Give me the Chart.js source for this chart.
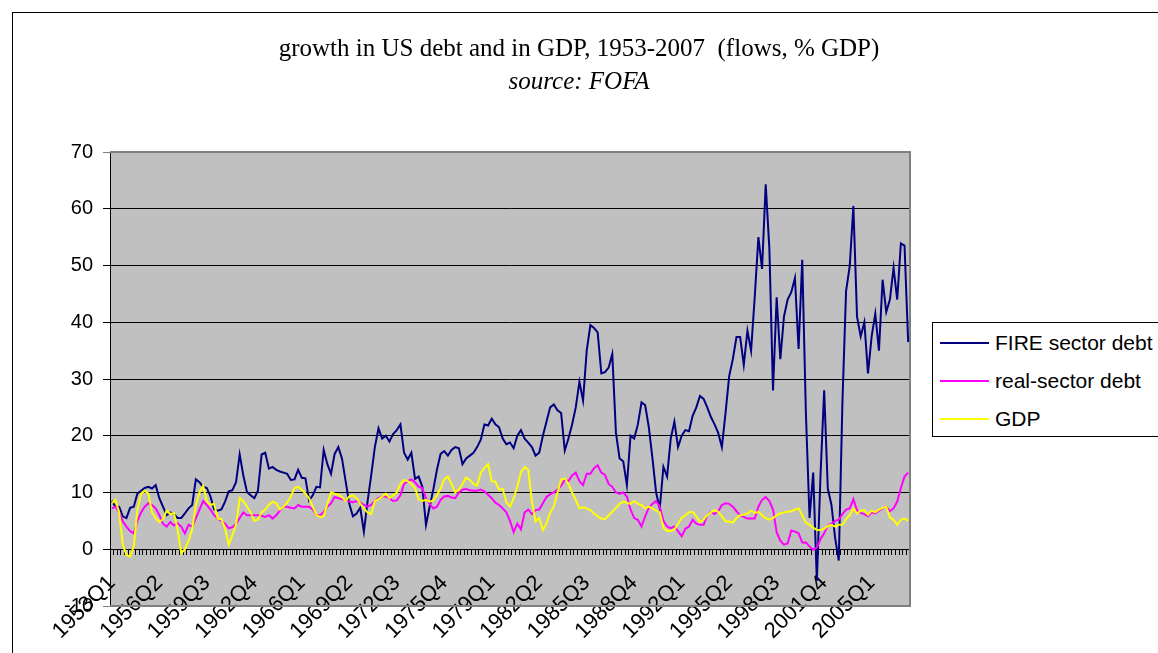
<!DOCTYPE html>
<html>
<head>
<meta charset="utf-8">
<script src="https://cdn.jsdelivr.net/npm/chart.js@4.4.1/dist/chart.umd.min.js"></script>
<style>
html, body { margin: 0; padding: 0; background: #fff; }
#wrap { position: relative; width: 1158px; height: 653px; overflow: hidden; }
#frame { position: absolute; left: 12px; top: 12px; width: 1200px; height: 700px; border: 1px solid #000; }
#chart { position: absolute; left: 0; top: 0; }
#title { position: absolute; left: 0; top: 31px; width: 1158px; text-align: center;
  font-family: "Liberation Serif", "Times New Roman", serif; font-size: 25px; line-height: 33px; color: #000; }
#title i { font-style: italic; }
#legend { position: absolute; left: 932px; top: 322px; width: 225px; height: 113px;
  border: 1px solid #000; background: #fff; font-family: "Liberation Sans", Arial, sans-serif; font-size: 21px; }
.item { position: absolute; left: 0; height: 30px; line-height: 30px; white-space: nowrap; }
.item span.swatch { position: absolute; left: 7px; top: 14px; width: 49px; height: 2px; }
.item span.txt { position: absolute; left: 62px; top: 0; }
</style>
</head>
<body>
<div id="wrap">
  <div id="frame"></div>
  <canvas id="chart" width="1158" height="653"></canvas>
  <div id="title">growth in US debt and in GDP, 1953-2007&nbsp; (flows, % GDP)<br><i>source: FOFA</i></div>
  <div id="legend"></div>
</div>
<script>
// quarterly categories 1953Q1 .. 2007Q3
const quarters = [];
for (let y = 1953; y <= 2007; y++) {
    for (let q = 1; q <= 4; q++) quarters.push(y + 'Q' + q);
}
quarters.length = 219;

const fireDebt = [
    8.5, 7.5, 7.5, 5.8, 5.5, 7.3, 7.5, 9.8, 10.3, 10.8, 11.0, 10.7, 11.3, 9.0, 7.5, 6.0, 6.5, 6.2, 5.5, 5.5,
    6.3, 7.2, 7.8, 12.3, 11.8, 11.0, 10.8, 9.3, 7.0, 6.8, 7.0, 8.4, 10.2, 10.4, 11.8, 16.7, 13.0, 10.1, 9.5, 9.0,
    10.3, 16.7, 17.0, 14.2, 14.5, 14.0, 13.7, 13.5, 13.3, 12.2, 12.3, 14.0, 12.6, 12.5, 8.6, 9.5, 11.0, 10.9, 17.5, 15.0,
    13.3, 16.8, 18.0, 16.0, 12.0, 8.0, 5.8, 6.3, 7.3, 3.1, 8.4, 13.0, 18.0, 21.3, 19.5, 20.0, 19.0, 20.3, 21.0, 22.0,
    17.0, 15.8, 17.0, 12.4, 12.8, 11.0, 4.3, 7.5, 10.5, 14.0, 16.8, 17.3, 16.5, 17.5, 18.0, 17.8, 15.0, 16.0, 16.5, 17.0,
    18.0, 19.3, 22.0, 21.8, 23.0, 22.0, 21.5, 19.5, 18.5, 18.8, 17.8, 20.0, 21.0, 19.5, 18.8, 18.0, 16.5, 17.0, 20.0, 22.5,
    25.0, 25.5, 24.5, 24.0, 17.4, 19.5, 22.0, 25.0, 29.5, 26.2, 35.0, 39.5, 39.0, 38.2, 31.0, 31.2, 32.0, 34.4, 20.5, 16.0,
    15.5, 11.3, 20.0, 19.5, 22.0, 25.9, 25.4, 21.5, 16.0, 10.0, 7.2, 14.5, 12.8, 19.5, 22.5, 18.0, 20.0, 21.0, 20.8, 23.5,
    25.0, 27.0, 26.5, 25.0, 23.3, 22.0, 20.5, 18.0, 24.0, 30.5, 33.5, 37.4, 37.4, 32.5, 38.5, 35.0, 44.5, 55.0, 49.4, 64.3,
    53.0, 28.0, 44.4, 33.5, 41.0, 44.0, 45.3, 47.8, 35.3, 51.0, 24.0, 5.5, 13.5, -5.6, 13.0, 28.0, 10.7, 7.8, 2.0, -2.0,
    25.9, 45.5, 49.9, 60.5, 41.0, 37.5, 40.0, 31.0, 37.5, 41.5, 35.0, 47.5, 41.8, 44.0, 49.6, 44.0, 53.9, 53.5, 36.5
];

const realDebt = [
    7.2, 7.5, 6.5, 4.9, 4.0, 3.2, 2.8, 5.0, 6.5, 7.5, 8.1, 7.8, 7.2, 6.0, 4.5, 4.0, 4.8, 4.2, 4.6, 4.0,
    2.8, 4.3, 4.0, 5.5, 7.0, 8.5, 7.8, 7.0, 6.0, 5.4, 5.0, 4.5, 3.7, 3.9, 4.4, 5.5, 6.5, 6.0, 6.0, 6.0,
    6.0, 5.9, 5.7, 6.0, 5.4, 6.0, 6.8, 7.5, 7.5, 7.3, 7.2, 7.8, 7.5, 7.5, 7.5, 7.0, 6.0, 6.0, 6.5, 7.5,
    8.1, 9.2, 9.0, 8.8, 8.7, 8.4, 8.3, 8.5, 8.2, 7.8, 7.5, 7.8, 8.5, 9.0, 9.3, 9.3, 9.0, 8.5, 8.6, 9.5,
    11.5, 12.0, 12.3, 11.8, 11.0, 10.8, 9.0, 8.0, 7.2, 7.5, 8.7, 9.3, 9.4, 9.1, 9.0, 10.0, 10.5, 10.6, 10.4, 10.3,
    10.3, 10.5, 10.2, 9.6, 9.0, 8.2, 7.8, 7.2, 6.5, 5.0, 3.0, 4.5, 3.5, 6.5, 7.0, 6.2, 6.9, 7.0, 8.1, 9.2,
    9.7, 10.0, 10.5, 11.2, 12.2, 12.0, 13.0, 13.5, 12.0, 11.3, 13.3, 13.3, 14.3, 14.8, 13.5, 13.1, 11.5, 11.0, 10.0, 9.8,
    10.0, 9.3, 7.0, 5.5, 5.2, 4.0, 5.8, 7.3, 8.0, 8.5, 7.5, 5.0, 4.0, 3.7, 4.0, 3.2, 2.3, 3.6, 4.0, 5.2,
    4.5, 4.3, 4.3, 6.0, 6.6, 6.2, 6.7, 7.8, 8.1, 8.0, 7.5, 6.7, 6.0, 5.7, 5.4, 5.4, 5.4, 7.5, 8.7, 9.2,
    8.5, 7.0, 3.0, 1.5, 0.8, 1.0, 3.3, 3.1, 2.8, 1.2, 1.2, 0.5, -0.1, 0.3, 1.8, 2.8, 4.2, 4.5, 5.0, 5.2,
    6.2, 7.0, 7.2, 8.8, 6.8, 6.4, 6.2, 5.8, 6.5, 6.3, 6.8, 7.2, 7.5, 6.7, 7.2, 8.4, 10.8, 12.8, 13.5
];

const gdp = [
    8.1, 8.7, 6.5, 0.8, -1.0, -1.3, 0.5, 7.0, 9.8, 10.3, 9.8, 6.5, 5.5, 4.8, 5.3, 6.8, 6.2, 6.4, 3.5, -0.7,
    0.0, 1.5, 3.5, 7.8, 10.0, 11.2, 8.4, 7.8, 8.0, 5.4, 5.3, 3.7, 0.8, 2.5, 4.3, 9.0, 8.5, 7.5, 6.5, 5.0,
    5.2, 6.5, 7.0, 7.8, 8.4, 8.1, 7.0, 7.5, 8.2, 9.3, 10.8, 11.0, 10.5, 9.8, 9.0, 7.5, 6.0, 5.7, 5.8, 8.0,
    10.0, 9.8, 9.6, 9.2, 8.5, 9.3, 9.5, 9.0, 8.0, 7.2, 6.5, 6.2, 8.5, 8.8, 9.3, 9.8, 9.0, 9.5, 10.0, 11.5,
    12.2, 12.0, 11.5, 10.8, 8.8, 8.5, 8.7, 8.4, 8.6, 9.5, 10.7, 12.3, 12.8, 11.5, 10.0, 10.5, 11.5, 12.6, 12.2, 11.5,
    11.2, 13.5, 14.3, 15.0, 12.0, 11.9, 10.5, 10.6, 8.3, 7.5, 9.0, 11.0, 13.6, 14.5, 14.0, 8.4, 4.9, 5.5, 3.4, 4.5,
    6.5, 7.5, 10.0, 12.3, 12.5, 11.5, 10.0, 8.7, 7.2, 7.4, 7.2, 6.9, 6.3, 5.8, 5.4, 5.3, 6.0, 6.6, 7.3, 8.0,
    8.4, 8.2, 8.0, 8.5, 8.0, 7.8, 7.2, 7.5, 7.2, 6.8, 6.5, 3.8, 3.2, 3.2, 3.5, 4.5, 5.5, 6.0, 6.5, 6.6,
    5.8, 4.8, 5.2, 6.0, 6.5, 6.9, 6.6, 5.8, 4.9, 4.9, 4.7, 5.5, 6.0, 6.1, 6.3, 6.8, 6.4, 6.6, 6.0, 5.5,
    5.2, 5.5, 6.0, 6.3, 6.5, 6.6, 6.7, 7.0, 7.2, 6.0, 4.7, 4.3, 3.8, 3.4, 3.4, 3.6, 4.1, 4.3, 4.0, 4.3,
    4.3, 5.3, 6.0, 7.2, 6.3, 6.8, 6.9, 6.1, 6.8, 6.5, 7.0, 7.3, 7.5, 5.6, 5.2, 4.3, 5.2, 5.4, 5.0
];

const seriesNames = ['FIRE sector debt', 'real-sector debt', 'GDP'];
const seriesColors = ['#000080', '#FF00FF', '#FFFF00'];
const yTicks = [-10, 0, 10, 20, 30, 40, 50, 60, 70];
const labelEvery = 13;

// legend box (Excel style, placed right of the plot)
const legend = document.getElementById('legend');
seriesNames.forEach((name, i) => {
    const item = document.createElement('div');
    item.className = 'item';
    item.style.top = (5 + i * 38) + 'px';
    item.innerHTML = `<span class="swatch" style="background:${seriesColors[i]}"></span><span class="txt">${name}</span>`;
    legend.appendChild(item);
});

const plotFrame = {
    id: 'plotFrame',
    beforeDraw(chart) {
        const { ctx, chartArea: a } = chart;
        ctx.save();
        ctx.fillStyle = '#C0C0C0';
        ctx.fillRect(a.left, a.top, a.right - a.left, a.bottom - a.top);
        ctx.restore();
    },
    beforeDatasetsDraw(chart) {
        const { ctx, chartArea: a } = chart;
        ctx.save();
        ctx.strokeStyle = '#808080';
        ctx.lineWidth = 2;
        ctx.beginPath();
        ctx.moveTo(a.left, a.top);
        ctx.lineTo(a.right, a.top);
        ctx.lineTo(a.right, a.bottom);
        ctx.lineTo(a.left, a.bottom);
        ctx.stroke();
        ctx.restore();
    }
};

const data = [fireDebt, realDebt, gdp];

new Chart(document.getElementById('chart'), {
    type: 'line',
    data: {
        labels: quarters,
        datasets: seriesNames.map((name, i) => ({
            label: name,
            data: data[i],
            borderColor: seriesColors[i],
            backgroundColor: seriesColors[i],
            borderWidth: 2,
            pointRadius: 0,
            tension: 0,
            fill: false,
            order: 3 - i
        }))
    },
    options: {
        responsive: false,
        animation: false,
        devicePixelRatio: 1,
        layout: { padding: { left: 0, right: 248, top: 152, bottom: 47 } },
        plugins: {
            legend: { display: false },
            tooltip: { enabled: false }
        },
        scales: {
            x: {
                type: 'category',
                position: { y: 0 },
                offset: true,
                ticks: {
                    autoSkip: false,
                    maxRotation: 45,
                    minRotation: 45,
                    padding: 16,
                    color: '#000',
                    font: { family: 'Liberation Sans', size: 22 },
                    callback: function (value, index) {
                        return index % labelEvery === 0 ? this.getLabelForValue(value) : '';
                    }
                },
                grid: { drawOnChartArea: false, offset: true, tickLength: 5, color: '#000' },
                border: { color: '#000', width: 1 }
            },
            y: {
                min: yTicks[0],
                max: yTicks[yTicks.length - 1],
                afterBuildTicks: (scale) => { scale.ticks = yTicks.map(v => ({ value: v })); },
                afterFit: (scale) => { scale.width = 110; },
                ticks: {
                    padding: 10,
                    color: '#000',
                    font: { family: 'Liberation Sans', size: 20 }
                },
                grid: {
                    tickLength: 7,
                    color: (c) => (c.tick && (c.tick.value === 70 || c.tick.value === -10)) ? '#808080' : '#000'
                },
                border: { color: '#000', width: 1 }
            }
        }
    },
    plugins: [plotFrame]
});
</script>
</body>
</html>
